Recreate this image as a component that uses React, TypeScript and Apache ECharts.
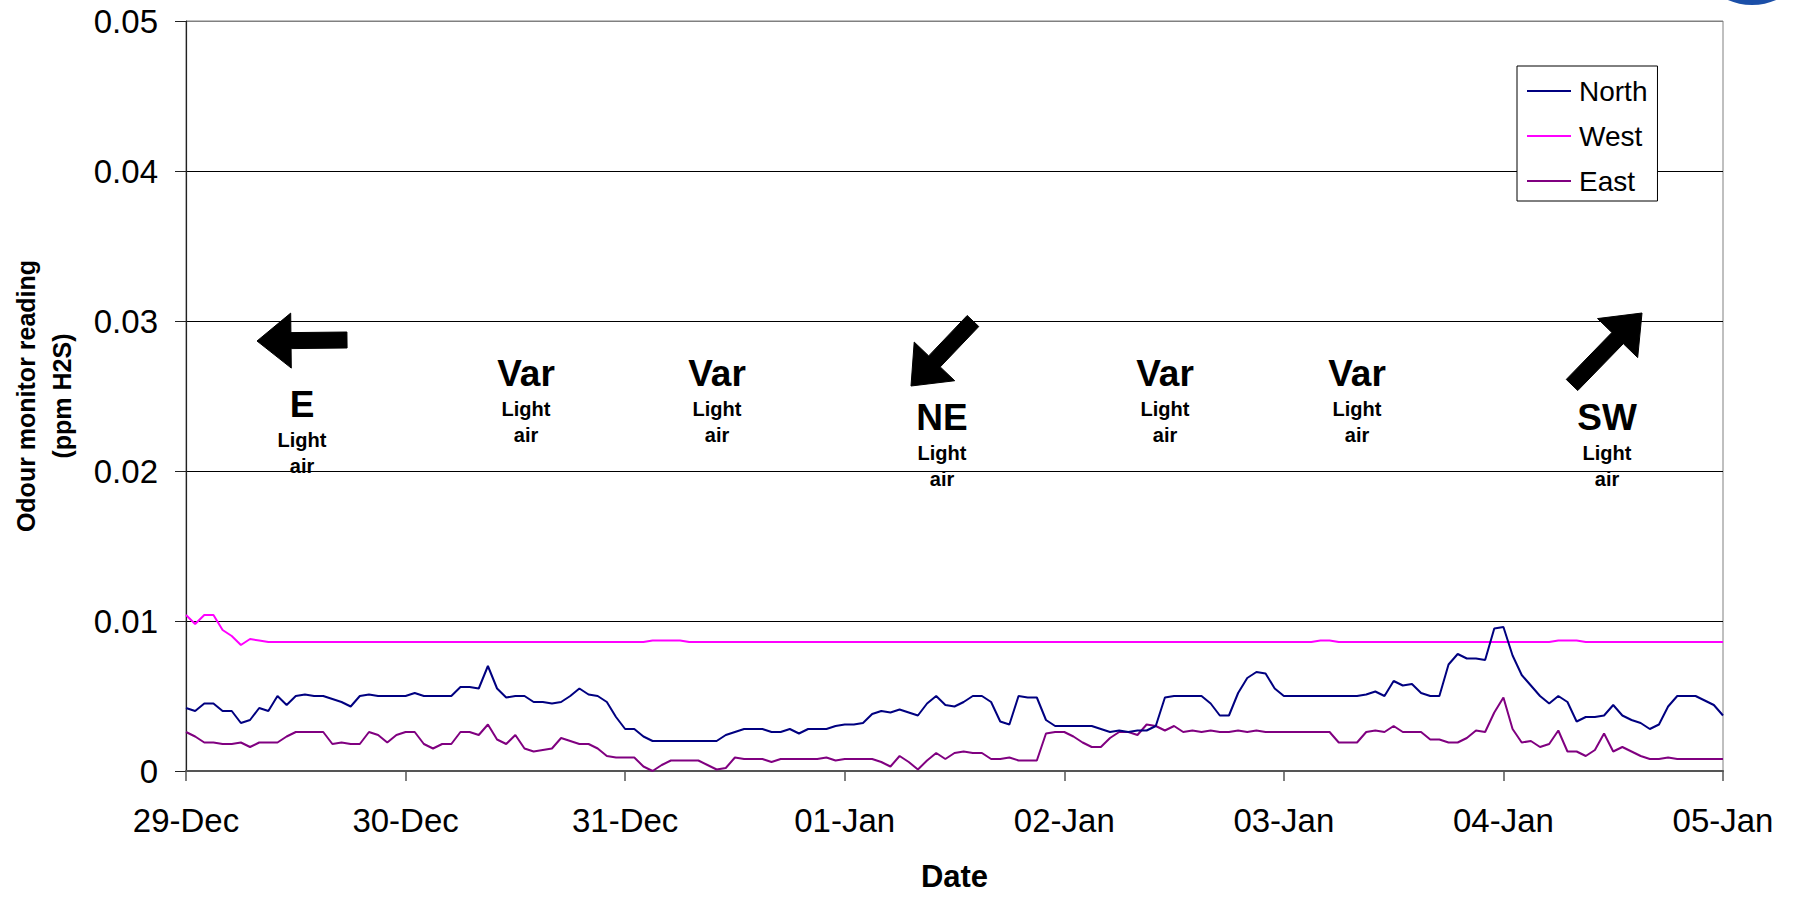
import React, { useEffect, useRef } from "react";
import * as echarts from "echarts";

// ---- Data (hourly readings, 29-Dec 00:00 to 05-Jan 00:00) ----
const dayLabels = ["29-Dec", "30-Dec", "31-Dec", "01-Jan", "02-Jan", "03-Jan", "04-Jan", "05-Jan"];
const yTickLabels = ["0", "0.01", "0.02", "0.03", "0.04", "0.05"];
const seriesNames = ["North", "West", "East"];

const north = [
  0.0042, 0.0040, 0.0045, 0.0045, 0.0040, 0.0040, 0.0032, 0.0034, 0.0042, 0.0040, 0.0050, 0.0044,
  0.0050, 0.0051, 0.0050, 0.0050, 0.0048, 0.0046, 0.0043, 0.0050, 0.0051, 0.0050, 0.0050, 0.0050,
  0.0050, 0.0052, 0.0050, 0.0050, 0.0050, 0.0050, 0.0056, 0.0056, 0.0055, 0.0070, 0.0055, 0.0049,
  0.0050, 0.0050, 0.0046, 0.0046, 0.0045, 0.0046, 0.0050, 0.0055, 0.0051, 0.0050, 0.0046, 0.0036,
  0.0028, 0.0028, 0.0023, 0.0020, 0.0020, 0.0020, 0.0020, 0.0020, 0.0020, 0.0020, 0.0020, 0.0024,
  0.0026, 0.0028, 0.0028, 0.0028, 0.0026, 0.0026, 0.0028, 0.0025, 0.0028, 0.0028, 0.0028, 0.0030,
  0.0031, 0.0031, 0.0032, 0.0038, 0.0040, 0.0039, 0.0041, 0.0039, 0.0037, 0.0045, 0.0050, 0.0044,
  0.0043, 0.0046, 0.0050, 0.0050, 0.0046, 0.0033, 0.0031, 0.0050, 0.0049, 0.0049, 0.0034, 0.0030,
  0.0030, 0.0030, 0.0030, 0.0030, 0.0028, 0.0026, 0.0027, 0.0026, 0.0027, 0.0027, 0.0030, 0.0049,
  0.0050, 0.0050, 0.0050, 0.0050, 0.0045, 0.0037, 0.0037, 0.0052, 0.0062, 0.0066, 0.0065, 0.0055,
  0.0050, 0.0050, 0.0050, 0.0050, 0.0050, 0.0050, 0.0050, 0.0050, 0.0050, 0.0051, 0.0053, 0.0050,
  0.0060, 0.0057, 0.0058, 0.0052, 0.0050, 0.0050, 0.0071, 0.0078, 0.0075, 0.0075, 0.0074, 0.0095,
  0.0096, 0.0077, 0.0064, 0.0057, 0.0050, 0.0045, 0.0050, 0.0046, 0.0033, 0.0036, 0.0036, 0.0037,
  0.0044, 0.0037, 0.0034, 0.0032, 0.0028, 0.0031, 0.0043, 0.0050, 0.0050, 0.0050, 0.0047, 0.0044,
  0.0037,
];

const west = [
  0.0104, 0.0098, 0.0104, 0.0104, 0.0094, 0.0090, 0.0084, 0.0088, 0.0087, 0.0086, 0.0086, 0.0086,
  0.0086, 0.0086, 0.0086, 0.0086, 0.0086, 0.0086, 0.0086, 0.0086, 0.0086, 0.0086, 0.0086, 0.0086,
  0.0086, 0.0086, 0.0086, 0.0086, 0.0086, 0.0086, 0.0086, 0.0086, 0.0086, 0.0086, 0.0086, 0.0086,
  0.0086, 0.0086, 0.0086, 0.0086, 0.0086, 0.0086, 0.0086, 0.0086, 0.0086, 0.0086, 0.0086, 0.0086,
  0.0086, 0.0086, 0.0086, 0.0087, 0.0087, 0.0087, 0.0087, 0.0086, 0.0086, 0.0086, 0.0086, 0.0086,
  0.0086, 0.0086, 0.0086, 0.0086, 0.0086, 0.0086, 0.0086, 0.0086, 0.0086, 0.0086, 0.0086, 0.0086,
  0.0086, 0.0086, 0.0086, 0.0086, 0.0086, 0.0086, 0.0086, 0.0086, 0.0086, 0.0086, 0.0086, 0.0086,
  0.0086, 0.0086, 0.0086, 0.0086, 0.0086, 0.0086, 0.0086, 0.0086, 0.0086, 0.0086, 0.0086, 0.0086,
  0.0086, 0.0086, 0.0086, 0.0086, 0.0086, 0.0086, 0.0086, 0.0086, 0.0086, 0.0086, 0.0086, 0.0086,
  0.0086, 0.0086, 0.0086, 0.0086, 0.0086, 0.0086, 0.0086, 0.0086, 0.0086, 0.0086, 0.0086, 0.0086,
  0.0086, 0.0086, 0.0086, 0.0086, 0.0087, 0.0087, 0.0086, 0.0086, 0.0086, 0.0086, 0.0086, 0.0086,
  0.0086, 0.0086, 0.0086, 0.0086, 0.0086, 0.0086, 0.0086, 0.0086, 0.0086, 0.0086, 0.0086, 0.0086,
  0.0086, 0.0086, 0.0086, 0.0086, 0.0086, 0.0086, 0.0087, 0.0087, 0.0087, 0.0086, 0.0086, 0.0086,
  0.0086, 0.0086, 0.0086, 0.0086, 0.0086, 0.0086, 0.0086, 0.0086, 0.0086, 0.0086, 0.0086, 0.0086,
  0.0086,
];

const east = [
  0.0026, 0.0023, 0.0019, 0.0019, 0.0018, 0.0018, 0.0019, 0.0016, 0.0019, 0.0019, 0.0019, 0.0023,
  0.0026, 0.0026, 0.0026, 0.0026, 0.0018, 0.0019, 0.0018, 0.0018, 0.0026, 0.0024, 0.0019, 0.0024,
  0.0026, 0.0026, 0.0018, 0.0015, 0.0018, 0.0018, 0.0026, 0.0026, 0.0024, 0.0031, 0.0021, 0.0018,
  0.0024, 0.0015, 0.0013, 0.0014, 0.0015, 0.0022, 0.0020, 0.0018, 0.0018, 0.0015, 0.0010, 0.0009,
  0.0009, 0.0009, 0.0003, 0.0000, 0.0004, 0.0007, 0.0007, 0.0007, 0.0007, 0.0004, 0.0001, 0.0002,
  0.0009, 0.0008, 0.0008, 0.0008, 0.0006, 0.0008, 0.0008, 0.0008, 0.0008, 0.0008, 0.0009, 0.0007,
  0.0008, 0.0008, 0.0008, 0.0008, 0.0006, 0.0003, 0.0010, 0.0006, 0.0001, 0.0007, 0.0012, 0.0008,
  0.0012, 0.0013, 0.0012, 0.0012, 0.0008, 0.0008, 0.0009, 0.0007, 0.0007, 0.0007, 0.0025, 0.0026,
  0.0026, 0.0023, 0.0019, 0.0016, 0.0016, 0.0022, 0.0026, 0.0026, 0.0024, 0.0031, 0.0030, 0.0027,
  0.0030, 0.0026, 0.0027, 0.0026, 0.0027, 0.0026, 0.0026, 0.0027, 0.0026, 0.0027, 0.0026, 0.0026,
  0.0026, 0.0026, 0.0026, 0.0026, 0.0026, 0.0026, 0.0019, 0.0019, 0.0019, 0.0026, 0.0027, 0.0026,
  0.0030, 0.0026, 0.0026, 0.0026, 0.0021, 0.0021, 0.0019, 0.0019, 0.0022, 0.0027, 0.0026, 0.0039,
  0.0049, 0.0028, 0.0019, 0.0020, 0.0016, 0.0018, 0.0027, 0.0013, 0.0013, 0.0010, 0.0014, 0.0025,
  0.0013, 0.0016, 0.0013, 0.0010, 0.0008, 0.0008, 0.0009, 0.0008, 0.0008, 0.0008, 0.0008, 0.0008,
  0.0008,
];

// Wind annotations (text content)
const windDirections = ["E", "Var", "Var", "NE", "Var", "Var", "SW"];
const windStrength = ["Light", "air"];

// ---- Layout / styles ----
const FONT = '"Liberation Sans", Arial, Helvetica, sans-serif';
const COLORS = ["#000080", "#FF00FF", "#800080"];
const W = 1793;
const H = 897;

// label centres (pixel layout)
const windLayout = [
  { x: 302, y: 404 },
  { x: 526, y: 373 },
  { x: 717, y: 373 },
  { x: 942, y: 417 },
  { x: 1165, y: 373 },
  { x: 1357, y: 373 },
  { x: 1607, y: 417 },
];

const arrowLayout = [
  { tail: [347, 340], tip: [257, 341], headLen: 34, headHalf: 27.5, shaftHalf: 8 },
  { tail: [973, 321], tip: [911, 386], headLen: 34, headHalf: 28, shaftHalf: 8 },
  { tail: [1572, 385], tip: [1642, 313], headLen: 35, headHalf: 28, shaftHalf: 8 },
];

function arrowPoints(a: any) {
  const [tx, ty] = a.tail;
  const [hx, hy] = a.tip;
  const dx = hx - tx;
  const dy = hy - ty;
  const L = Math.hypot(dx, dy);
  const ux = dx / L;
  const uy = dy / L;
  const px = -uy;
  const py = ux;
  const bx = hx - ux * a.headLen;
  const by = hy - uy * a.headLen;
  const s = a.shaftHalf;
  const h = a.headHalf;
  return [
    [tx + px * s, ty + py * s],
    [bx + px * s, by + py * s],
    [bx + px * h, by + py * h],
    [hx, hy],
    [bx - px * h, by - py * h],
    [bx - px * s, by - py * s],
    [tx - px * s, ty - py * s],
  ];
}

function textEl(text: string, x: number, y: number, size: number) {
  return {
    type: "text",
    x,
    y,
    z: 100,
    style: {
      text,
      fill: "#000",
      fontSize: size,
      fontWeight: "bold",
      fontFamily: FONT,
      align: "center",
      verticalAlign: "middle",
      textAlign: "center",
      textVerticalAlign: "middle",
    },
  };
}

export default function App() {
  const ref = useRef<HTMLDivElement>(null);

  useEffect(() => {
    document.body.style.margin = "0";
    if (!ref.current) return;
    const chart = echarts.init(ref.current, null, { renderer: "svg", width: W, height: H });

    const graphics: any[] = [];
    windDirections.forEach((d, i) => {
      const p = windLayout[i];
      graphics.push(textEl(d, p.x, p.y, 37));
      graphics.push(textEl(windStrength[0], p.x, p.y + 36, 20));
      graphics.push(textEl(windStrength[1], p.x, p.y + 62, 20));
    });
    arrowLayout.forEach((a) => {
      graphics.push({
        type: "polygon",
        z: 100,
        shape: { points: arrowPoints(a) },
        style: { fill: "#000", stroke: "#000", lineWidth: 1 },
      });
    });
    // fragment of a logo at the top-right corner
    graphics.push({
      type: "ellipse",
      z: 100,
      shape: { cx: 1752, cy: -32, rx: 48, ry: 37 },
      style: { fill: "#1b4fa8" },
    });

    const seriesData = [north, west, east];

    chart.setOption({
      animation: false,
      backgroundColor: "#ffffff",
      textStyle: { fontFamily: FONT },
      grid: {
        left: 186,
        right: 70,
        top: 21,
        bottom: 123,
        show: true,
        borderColor: "#808080",
        borderWidth: 1,
        backgroundColor: "transparent",
      },
      legend: {
        orient: "vertical",
        left: 1517,
        top: 66,
        padding: [11, 10, 6, 10],
        icon: "rect",
        itemWidth: 44,
        itemHeight: 2,
        itemGap: 17,
        borderColor: "#000",
        borderWidth: 1,
        backgroundColor: "#fff",
        data: seriesNames,
        textStyle: {
          fontSize: 28,
          color: "#000",
          fontFamily: FONT,
          padding: [0, 0, 0, 3],
          lineHeight: 28,
        },
      },
      xAxis: {
        type: "value",
        min: 0,
        max: 168,
        interval: 24,
        name: "Date",
        nameLocation: "middle",
        nameGap: 90,
        nameTextStyle: { fontSize: 31, fontWeight: "bold", color: "#000", fontFamily: FONT },
        axisLine: { show: true, onZero: false, lineStyle: { color: "#555", width: 2 } },
        axisTick: { show: true, length: 10, lineStyle: { color: "#555", width: 1.5 } },
        axisLabel: {
          show: true,
          fontSize: 33,
          color: "#000",
          margin: 33,
          fontFamily: FONT,
          formatter: (v: number) => dayLabels[Math.round(v / 24)] ?? "",
        },
        splitLine: { show: false },
      },
      yAxis: {
        type: "value",
        min: 0,
        max: 0.05,
        interval: 0.01,
        name: "Odour monitor reading\n(ppm H2S)",
        nameLocation: "middle",
        nameRotate: 90,
        nameGap: 106,
        nameTextStyle: {
          fontSize: 25,
          fontWeight: "bold",
          color: "#000",
          fontFamily: FONT,
          lineHeight: 36,
          align: "center",
        },
        axisLine: { show: true, lineStyle: { color: "#222", width: 1.2 } },
        axisTick: { show: true, length: 11, lineStyle: { color: "#222", width: 1 } },
        axisLabel: {
          show: true,
          fontSize: 33,
          color: "#000",
          margin: 28,
          fontFamily: FONT,
          formatter: (v: number) => yTickLabels[Math.round(v * 100)] ?? "",
        },
        splitLine: {
          show: true,
          lineStyle: { color: ["#000", "#000", "#000", "#000", "#000", "#808080"], width: 1 },
        },
      },
      series: seriesNames.map((name, si) => ({
        name,
        type: "line",
        symbol: "none",
        showSymbol: false,
        data: seriesData[si].map((v, i) => [i, v]),
        lineStyle: { color: COLORS[si], width: 2 },
        itemStyle: { color: COLORS[si] },
        z: si === 0 ? 3 : 2,
      })),
      graphic: graphics,
    });

    return () => {
      chart.dispose();
    };
  }, []);

  return <div ref={ref} style={{ width: W, height: H }} />;
}
